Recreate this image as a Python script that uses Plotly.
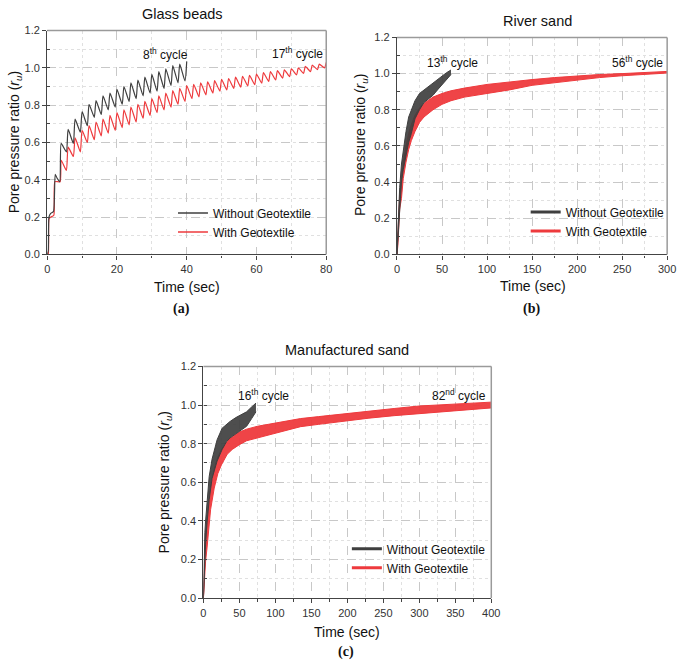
import plotly.graph_objects as go

W, H = 685, 668

# ---------------- (a) Glass beads ----------------
a_black_head_t = [0, 0.3, 0.5, 1.0, 1.8, 2.3, 2.8, 3.6]
a_black_head_ru = [0, 0.02, 0.20, 0.22, 0.23, 0.43, 0.41, 0.39]
a_black_peak_t = [4, 6, 8, 10, 12, 14, 16, 18, 20, 22, 24, 26, 28, 30, 32, 34, 36, 38, 40]
a_black_peak = [0.595, 0.67, 0.725, 0.765, 0.805, 0.825, 0.85, 0.865, 0.885, 0.90,
                0.92, 0.935, 0.95, 0.965, 0.98, 0.995, 1.012, 1.02, 1.035]
a_black_trough_t = [5.5, 7.5, 9.5, 11.5, 13.5, 15.5, 17.5, 19.5, 21.5, 23.5, 25.5,
                    27.5, 29.5, 31.5, 33.5, 35.5, 37.5, 39.5]
a_black_trough = [0.55, 0.595, 0.655, 0.69, 0.735, 0.75, 0.775, 0.79, 0.805, 0.82,
                  0.835, 0.85, 0.865, 0.875, 0.89, 0.905, 0.92, 0.93]

a_red_head_t = [0, 0.3, 0.5, 1.0, 1.9, 2.2, 3.7]
a_red_head_ru = [0, 0.0, 0.19, 0.20, 0.21, 0.39, 0.39]
a_red_peak_t = [4, 6, 8, 10, 12, 14, 16, 18, 20, 22, 24, 26, 28, 30, 32, 34, 36, 38, 40,
                42, 44, 46, 48, 50, 52, 54, 56, 58, 60, 62, 64, 66, 68, 70, 72, 74, 76, 78, 80]
a_red_peak = [0.505, 0.575, 0.625, 0.665, 0.69, 0.71, 0.725, 0.745, 0.76, 0.775,
              0.79, 0.805, 0.82, 0.835, 0.85, 0.865, 0.878, 0.89, 0.905, 0.912,
              0.92, 0.925, 0.932, 0.938, 0.943, 0.95, 0.955, 0.96, 0.967, 0.975,
              0.98, 0.985, 0.99, 0.995, 1.0, 1.008, 1.015, 1.02, 1.03]
a_red_trough_t = [5.5, 7.5, 9.5, 11.5, 13.5, 15.5, 17.5, 19.5, 21.5, 23.5, 25.5, 27.5,
                  29.5, 31.5, 33.5, 35.5, 37.5, 39.5, 41.5, 43.5, 45.5, 47.5, 49.5, 51.5,
                  53.5, 55.5, 57.5, 59.5, 61.5, 63.5, 65.5, 67.5, 69.5, 71.5, 73.5, 75.5,
                  77.5, 79.5]
a_red_trough = [0.45, 0.525, 0.55, 0.60, 0.615, 0.635, 0.65, 0.665, 0.68, 0.695,
                0.71, 0.73, 0.745, 0.76, 0.775, 0.79, 0.805, 0.82, 0.835, 0.845,
                0.855, 0.865, 0.875, 0.882, 0.89, 0.897, 0.903, 0.91, 0.918, 0.927,
                0.935, 0.945, 0.953, 0.962, 0.97, 0.98, 0.99, 1.0]

# ---------------- (b) River sand (envelopes of dense oscillation) ----------------
b_black_t = [0, 1, 2, 3, 5, 7, 10, 13, 16, 20, 25, 30, 35, 40, 45, 50, 55, 60]
b_black_upper = [0, 0.17, 0.30, 0.37, 0.50, 0.58, 0.68, 0.76, 0.80, 0.85, 0.89, 0.91,
                 0.93, 0.945, 0.965, 0.985, 1.005, 1.02]
b_black_lower = [0, 0.08, 0.20, 0.28, 0.40, 0.47, 0.55, 0.62, 0.67, 0.75, 0.80, 0.84,
                 0.86, 0.88, 0.91, 0.94, 0.97, 0.995]
b_red_t = [0, 1, 2, 3, 5, 7, 10, 13, 16, 20, 25, 30, 40, 50, 60, 75, 100, 125, 150,
           175, 200, 225, 250, 275, 300]
b_red_upper = [0, 0.15, 0.28, 0.33, 0.40, 0.50, 0.60, 0.67, 0.72, 0.77, 0.81, 0.835,
               0.87, 0.89, 0.905, 0.92, 0.94, 0.955, 0.967, 0.978, 0.988, 0.995, 1.0,
               1.005, 1.012]
b_red_lower = [0, 0.05, 0.15, 0.25, 0.31, 0.42, 0.51, 0.58, 0.63, 0.68, 0.73, 0.76,
               0.80, 0.83, 0.85, 0.87, 0.89, 0.91, 0.935, 0.95, 0.965, 0.978, 0.988,
               0.996, 1.003]

# ---------------- (c) Manufactured sand ----------------
c_black_t = [0, 0.5, 2, 3, 5, 8, 12, 16, 19, 26, 32, 37, 45, 51, 60, 67, 73]
c_black_upper = [0, 0.15, 0.34, 0.40, 0.50, 0.63, 0.72, 0.78, 0.82, 0.88, 0.90, 0.915,
                 0.935, 0.947, 0.965, 0.99, 1.01]
c_black_lower = [0, 0.05, 0.22, 0.28, 0.39, 0.51, 0.62, 0.67, 0.71, 0.77, 0.81, 0.83,
                 0.85, 0.863, 0.89, 0.93, 0.965]
c_red_t = [0, 1, 2, 3, 5, 7, 10, 15, 20, 25, 33, 40, 50, 60, 75, 90, 110, 135, 160,
           195, 230, 265, 300, 350, 400]
c_red_upper = [0, 0.20, 0.26, 0.32, 0.40, 0.49, 0.575, 0.67, 0.73, 0.77, 0.81, 0.835,
               0.86, 0.875, 0.89, 0.90, 0.915, 0.93, 0.94, 0.955, 0.97, 0.982, 0.995,
               1.005, 1.015]
c_red_lower = [0, 0.08, 0.12, 0.19, 0.26, 0.36, 0.46, 0.57, 0.645, 0.69, 0.745, 0.77,
               0.795, 0.815, 0.83, 0.846, 0.865, 0.888, 0.90, 0.917, 0.932, 0.945,
               0.956, 0.97, 0.985]

series_names = ["Without Geotextile", "With Geotextile"]
panel_titles = ["Glass beads", "River sand", "Manufactured sand"]
panel_labels = ["(a)", "(b)", "(c)"]
cycle_labels = ["8<sup>th</sup> cycle", "17<sup>th</sup> cycle",
                "13<sup>th</sup> cycle", "56<sup>th</sup> cycle",
                "16<sup>th</sup> cycle", "82<sup>nd</sup> cycle"]
x_ranges = [[0, 80], [0, 300], [0, 400]]
x_dticks = [20, 50, 50]
x_minor = [10, 25, 25]

BLACK = "#3f3f3f"
RED = "#ee3a3d"
BLACK_FILL = "rgba(63,63,63,0.92)"
RED_FILL = "rgba(238,58,61,0.95)"
FONT = "Liberation Sans, Arial, sans-serif"


def zigzag(head_t, head_ru, pk_t, pk, tr_t, tr):
    t, r = list(head_t), list(head_ru)
    for i in range(len(pk)):
        t.append(pk_t[i]); r.append(pk[i])
        if i < len(tr):
            t.append(tr_t[i]); r.append(tr[i])
    return t, r


def px(x, y):
    return x / W, 1 - y / H


fig = go.Figure()

# (a)
rt, rr = zigzag(a_red_head_t, a_red_head_ru, a_red_peak_t, a_red_peak, a_red_trough_t, a_red_trough)
bt, br = zigzag(a_black_head_t, a_black_head_ru, a_black_peak_t, a_black_peak, a_black_trough_t, a_black_trough)
fig.add_trace(go.Scatter(x=rt, y=rr, mode="lines", line=dict(color=RED, width=1.2, shape="spline", smoothing=0.5),
                         showlegend=False, xaxis="x", yaxis="y"))
fig.add_trace(go.Scatter(x=bt, y=br, mode="lines", line=dict(color=BLACK, width=1.2, shape="spline", smoothing=0.5),
                         showlegend=False, xaxis="x", yaxis="y"))


def band(t, lo, up, color, fillc, xa, ya):
    fig.add_trace(go.Scatter(x=t, y=lo, mode="lines", line=dict(color=color, width=1),
                             showlegend=False, xaxis=xa, yaxis=ya))
    fig.add_trace(go.Scatter(x=t, y=up, mode="lines", line=dict(color=color, width=1),
                             fill="tonexty", fillcolor=fillc, showlegend=False,
                             xaxis=xa, yaxis=ya))


band(b_red_t, b_red_lower, b_red_upper, RED, RED_FILL, "x2", "y2")
band(b_black_t, b_black_lower, b_black_upper, BLACK, BLACK_FILL, "x2", "y2")
band(c_red_t, c_red_lower, c_red_upper, RED, RED_FILL, "x3", "y3")
band(c_black_t, c_black_lower, c_black_upper, BLACK, BLACK_FILL, "x3", "y3")

# legend entries
legend_ids = ["legend", "legend2", "legend3"]
legend_widths = [1.3, 3, 3]
axes = [("x", "y"), ("x2", "y2"), ("x3", "y3")]
for k in range(3):
    for name, col in zip(series_names, [BLACK, RED]):
        fig.add_trace(go.Scatter(x=[None], y=[None], mode="lines", name=name,
                                 line=dict(color=col, width=legend_widths[k]),
                                 legend=legend_ids[k], xaxis=axes[k][0], yaxis=axes[k][1]))

# pixel boxes of each plot area
boxes = [(45, 329, 25, 253), (401, 676, 32, 253), (204, 497, 367, 603)]


def xaxis_cfg(k):
    x0, x1, y0, y1 = boxes[k]
    return dict(domain=[x0 / W, x1 / W], range=x_ranges[k], dtick=x_dticks[k], tick0=0,
                anchor=axes[k][1], showline=True, linecolor="#444", linewidth=1.3,
                ticks="outside", ticklen=4, tickcolor="#444", tickwidth=1,
                showgrid=True, gridcolor="#c8c8c8", griddash="dash", gridwidth=1,
                minor=dict(dtick=x_minor[k], ticks="outside", ticklen=2.5, tickcolor="#444",
                           showgrid=True, gridcolor="#e0e0e0", griddash="dot"),
                tickfont=dict(family=FONT, size=11, color="#333"), zeroline=False)


def yaxis_cfg(k):
    x0, x1, y0, y1 = boxes[k]
    return dict(domain=[1 - y1 / H, 1 - y0 / H], range=[0, 1.2], dtick=0.2, tick0=0,
                anchor=axes[k][0], showline=True, linecolor="#444", linewidth=1.3,
                ticks="outside", ticklen=4, tickcolor="#444", tickwidth=1,
                showgrid=True, gridcolor="#c8c8c8", griddash="dash", gridwidth=1,
                minor=dict(dtick=0.1, ticks="inside", ticklen=3, tickcolor="#444",
                           showgrid=True, gridcolor="#e0e0e0", griddash="dot"),
                tickfont=dict(family=FONT, size=11, color="#333"), zeroline=False,
                tickformat=".1f")


annotations = []
title_pos = [(183, 8), (544, 15), (350, 350)]
xtitle_pos = [(187, 286), (539, 285), (350, 637)]
ytitle_pos = [(12, 139), (365, 142), (165, 485)]
label_pos = [(182, 309), (538, 309), (349, 658)]
for k in range(3):
    for (pos, txt, fnt, ang) in [
        (title_pos[k], panel_titles[k], dict(family=FONT, size=14.5, color="#111"), 0),
        (xtitle_pos[k], "Time (sec)", dict(family=FONT, size=14, color="#111"), 0),
        (ytitle_pos[k], "Pore pressure ratio (<i>r<sub>u</sub></i>)", dict(family=FONT, size=14, color="#111"), -90),
        (label_pos[k], "<b>" + panel_labels[k] + "</b>", dict(family="Liberation Serif, Times New Roman, serif", size=14, color="#111"), 0),
    ]:
        xx, yy = px(*pos)
        annotations.append(dict(x=xx, y=yy, xref="paper", yref="paper", text=txt, font=fnt,
                                showarrow=False, textangle=ang, xanchor="center", yanchor="middle"))

cycle_pos = [(34, 1.075, "x", "y"), (71.8, 1.08, "x", "y"),
             (62, 1.065, "x2", "y2"), (267, 1.065, "x2", "y2"),
             (83, 1.05, "x3", "y3"), (355, 1.05, "x3", "y3")]
for txt, (cx, cy, xa, ya) in zip(cycle_labels, cycle_pos):
    annotations.append(dict(x=cx, y=cy, xref=xa, yref=ya, text=txt, showarrow=False,
                            font=dict(family=FONT, size=12, color="#111"),
                            xanchor="center", yanchor="middle"))

shapes = []
for k in range(3):
    xd, yd = axes[k][0] + " domain", axes[k][1] + " domain"
    shapes.append(dict(type="line", xref=xd, yref=yd, x0=0, x1=1, y0=1, y1=1,
                       line=dict(color="#9a9a9a", width=1.5)))
    shapes.append(dict(type="line", xref=xd, yref=yd, x0=1, x1=1, y0=0, y1=1,
                       line=dict(color="#9a9a9a", width=1.5)))

legend_pos = [(173, 196), (532, 195), (350, 538)]


def legend_cfg(k):
    xx, yy = px(*legend_pos[k])
    return dict(x=xx, y=yy, xanchor="left", yanchor="top", bgcolor="rgba(0,0,0,0)",
                font=dict(family=FONT, size=12, color="#111"), itemwidth=30,
                tracegroupgap=0, traceorder="normal")


fig.update_layout(
    width=W, height=H, margin=dict(l=0, r=0, t=0, b=0),
    paper_bgcolor="white", plot_bgcolor="white",
    xaxis=xaxis_cfg(0), yaxis=yaxis_cfg(0),
    xaxis2=xaxis_cfg(1), yaxis2=yaxis_cfg(1),
    xaxis3=xaxis_cfg(2), yaxis3=yaxis_cfg(2),
    legend=legend_cfg(0), legend2=legend_cfg(1), legend3=legend_cfg(2),
    annotations=annotations, shapes=shapes,
)

fig.write_html("out.html", config={"displayModeBar": False},
               post_script="document.body.style.margin='0px';")
